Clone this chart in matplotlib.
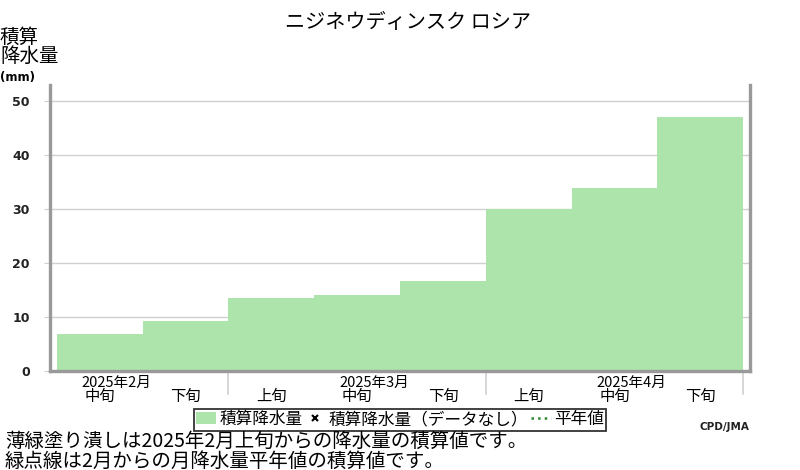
"""ニジネウディンスク 積算降水量グラフ"""
import matplotlib
matplotlib.use("Agg")
import matplotlib.pyplot as plt
from matplotlib.patches import Patch
from matplotlib.lines import Line2D

plt.rcParams["font.family"] = ["Noto Sans CJK JP", "DejaVu Sans"]
plt.rcParams["axes.unicode_minus"] = False

# データ (旬ごとの積算降水量 mm)
periods = ["中旬", "下旬", "上旬", "中旬", "下旬", "上旬", "中旬", "下旬"]
values = [6.8, 9.3, 13.6, 14.0, 16.6, 30.1, 33.9, 47.1]
months = ["2025年2月", "2025年3月", "2025年4月"]
month_pos = [0, 3, 6]          # 各月ラベルを置く旬の位置
month_bounds = [2, 5, 8]       # 月の区切り
yticks = [0, 10, 20, 30, 40, 50]

GREEN = "#ace4ac"
SPINE = "#999999"
GRID = "#d0d0d0"

fig = plt.figure(figsize=(8, 4.7), dpi=100)
ax = fig.add_axes([0.0625, 0.2106, 0.875, 0.6085])

x = list(range(len(values)))
ax.bar(x, values, width=1.0, align="edge", color=GREEN, linewidth=0, zorder=2)

ax.set_xlim(-0.08, len(values) + 0.08)
ax.set_ylim(0, 53)
ax.set_yticks(yticks)
ax.set_yticklabels([str(v) for v in yticks], fontsize=9, fontweight="bold",
                   family="DejaVu Sans", color="#222222")
ax.tick_params(axis="y", length=4, color=GRID, pad=10.5)
ax.set_xticks([])
ax.grid(axis="y", color=GRID, linewidth=1, zorder=0)

for side in ["left", "bottom", "right"]:
    ax.spines[side].set_color(SPINE)
    ax.spines[side].set_linewidth(2.4)
ax.spines["top"].set_visible(False)

# 旬ラベル・月ラベル
tr = ax.get_xaxis_transform()
for i, p in enumerate(periods):
    ax.text(i + 0.5, -0.09, p, transform=tr, ha="center", va="center", fontsize=11)
for pos, m in zip(month_pos, months):
    ax.text(pos + 0.29, -0.04, m, transform=tr, ha="left", va="center", fontsize=10.5)
for b in month_bounds:
    ax.plot([b, b], [0, -0.082], transform=tr, color=GRID, linewidth=1.2, clip_on=False)

# タイトル・軸ラベル
fig.text(0.51, 0.953, "ニジネウディンスク ロシア", ha="center", va="center", fontsize=14.5)
fig.text(0.0, 1 - 27 / 470, "積算\n降水量", ha="left", va="top", fontsize=14, linespacing=0.85)
fig.text(0.0, 1 - 77 / 470, "(mm)", ha="left", va="center", fontsize=8.5, fontweight="bold",
         family="DejaVu Sans")

# 凡例
handles = [
    Patch(facecolor=GREEN, edgecolor="none"),
    Line2D([], [], marker="x", color="black", linestyle="none", markersize=5, mew=1.5),
    Line2D([], [], color="#2a8a2a", linestyle=":", linewidth=1.8),
]
labels = ["積算降水量", "積算降水量（データなし）", "平年値"]
leg = fig.legend(handles, labels, loc="center", bbox_to_anchor=(0.5, 1 - 419.5 / 470),
                 ncol=3, fontsize=12, frameon=True, fancybox=False, handlelength=1.2,
                 handletextpad=0.2, columnspacing=0.15, borderpad=0.15, borderaxespad=0)
leg.get_frame().set_edgecolor("black")
leg.get_frame().set_linewidth(1.3)

fig.text(0.875, 1 - 427 / 470, "CPD/JMA", ha="left", va="center", fontsize=7.5,
         fontweight="bold", family="DejaVu Sans", color="#222222")

# 注記
fig.text(0.006, 1 - 441 / 470, "薄緑塗り潰しは2025年2月上旬からの降水量の積算値です。",
         ha="left", va="center", fontsize=14)
fig.text(0.006, 1 - 461 / 470, "緑点線は2月からの月降水量平年値の積算値です。",
         ha="left", va="center", fontsize=14)

fig.savefig("out.png", dpi=100)
